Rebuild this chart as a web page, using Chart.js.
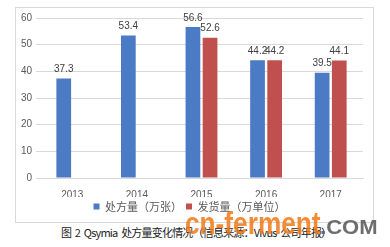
<!DOCTYPE html>
<html>
<head>
<meta charset="utf-8">
<script src="https://cdn.jsdelivr.net/npm/chart.js@4"></script>
<style>
  html, body { margin: 0; padding: 0; background: #fff; }
  body { width: 390px; height: 247px; position: relative; overflow: hidden; font-family: "Noto Sans CJK SC", "Noto Sans", sans-serif; }
  #box { position: absolute; left: 15px; top: 7px; width: 359px; height: 216px; border: 1px solid #d9d9d9; box-sizing: border-box; }
  #box canvas { position: absolute; left: 0; top: 0; }
  #caption { position: absolute; left: 61px; top: 224px; white-space: nowrap; font-size: 11px; letter-spacing: -0.8px; word-spacing: 2px; color: #222; }
  .wm { position: absolute; white-space: nowrap; font-family: "Liberation Sans", sans-serif; font-weight: bold; transform-origin: left top; }
  #wm1 { left: 185px; top: 205px; font-size: 32px; color: rgba(240,120,20,0.85); transform: scaleX(0.82); }
  #wm2 { left: 320px; top: 215px; font-size: 21px; color: rgba(85,85,85,0.85); transform: scaleX(1.05); }
</style>
</head>
<body>
<div id="box"><canvas id="chart" width="357" height="214"></canvas></div>
<div id="caption">图 2 Qsymia 处方量变化情况（信息来源：Vivus 公司年报）</div>
<div class="wm" id="wm1">cn-ferment</div>
<div class="wm" id="wm2">.COM</div>
<script>
// ---------------- Data ----------------
const YEARS = ["2013", "2014", "2015", "2016", "2017"];
const PRESCRIPTIONS = [37.3, 53.4, 56.6, 44.2, 39.5];   // 处方量（万张）
const SHIPMENTS = [null, null, 52.6, 44.2, 44.1];        // 发货量（万单位）
const Y_TICKS = [0, 10, 20, 30, 40, 50, 60];

// ---------------- Value labels ----------------
const valueLabels = {
  id: "valueLabels",
  afterDatasetsDraw(chart) {
    const ctx = chart.ctx;
    ctx.save();
    ctx.font = "10px 'Liberation Sans', sans-serif";
    ctx.fillStyle = "#404040";
    ctx.textAlign = "center";
    ctx.textBaseline = "bottom";
    chart.data.datasets.forEach((ds, i) => {
      chart.getDatasetMeta(i).data.forEach((bar, j) => {
        const v = ds.data[j];
        if (v == null) return;
        ctx.fillText(v.toFixed(1), bar.x, bar.y - 4);
      });
    });
    ctx.restore();
  }
};

new Chart(document.getElementById("chart"), {
  type: "bar",
  data: {
    labels: YEARS,
    datasets: [
      { label: "处方量（万张）", data: PRESCRIPTIONS, backgroundColor: "#4a7bc4" },
      { label: "发货量（万单位）", data: SHIPMENTS, backgroundColor: "#c0504d" }
    ]
  },
  options: {
    responsive: false,
    animation: false,
    layout: { padding: { left: 0, right: 10, top: 10, bottom: 0 } },
    plugins: {
      legend: {
        position: "bottom",
        labels: {
          boxWidth: 6, boxHeight: 6, padding: 4,
          color: "#595959",
          font: { size: 11, family: "'Noto Sans CJK SC', sans-serif" }
        }
      },
      tooltip: { enabled: false }
    },
    datasets: { bar: { categoryPercentage: 0.53, barPercentage: 0.86 } },
    scales: {
      x: {
        grid: { display: false },
        border: { color: "#d9d9d9" },
        afterFit: axis => { axis.height = 19; },
        ticks: { color: "#595959", padding: 3, font: { size: 10, family: "'Liberation Sans', sans-serif" } }
      },
      y: {
        min: 0, max: 60,
        afterBuildTicks: axis => { axis.ticks = Y_TICKS.map(v => ({ value: v })); },
        afterFit: axis => { axis.width = 24; },
        grid: { color: "#d9d9d9", tickLength: 4 },
        border: { display: false },
        ticks: { color: "#595959", padding: 4, font: { size: 10, family: "'Liberation Sans', sans-serif" } }
      }
    }
  },
  plugins: [valueLabels]
});
</script>
</body>
</html>
